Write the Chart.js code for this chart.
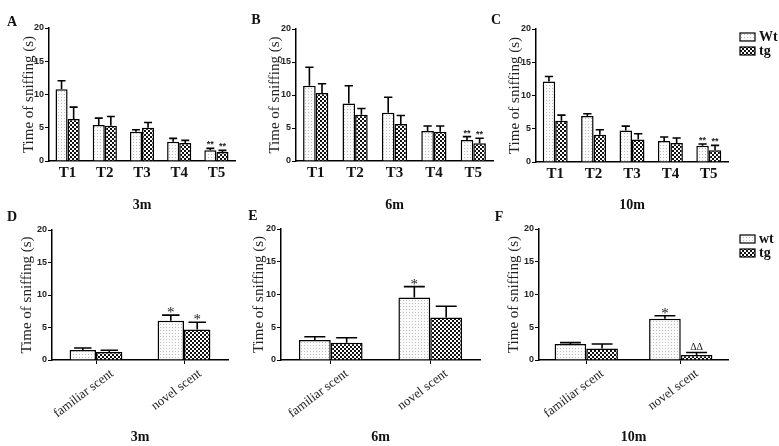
<!DOCTYPE html>
<html><head><meta charset="utf-8">
<script src="https://cdn.jsdelivr.net/npm/chart.js@4.4.0/dist/chart.umd.min.js"></script>
<style>
html,body{margin:0;padding:0;background:#fff;}
#wrap{position:relative;width:779px;height:446px;overflow:hidden;background:#fff;}
canvas{position:absolute;}
</style></head><body><div id="wrap"></div>
<script>
// ---------- data ----------
const trialLabels = ['T1','T2','T3','T4','T5'];
const scentLabels = ['familiar scent','novel scent'];
const ageLabels = ['3m','6m','10m'];
const topSeriesNames = ['Wt','tg'];
const bottomSeriesNames = ['wt','tg'];

// habituation trials (A: 3m, B: 6m, C: 10m)
const trialWt3m  = [10.8, 5.4, 4.4, 2.9, 1.6];
const trialWtSem3m = [1.26, 1.05, 0.3, 0.5, 0.3];
const trialTg3m  = [6.3, 5.3, 5.0, 2.7, 1.35];
const trialTgSem3m = [1.8, 1.4, 0.8, 0.4, 0.25];
const trialWt6m  = [11.4, 8.7, 7.3, 4.55, 3.2];
const trialWtSem6m = [2.8, 2.7, 2.35, 0.75, 0.5];
const trialTg6m  = [10.3, 7.0, 5.6, 4.45, 2.7];
const trialTgSem6m = [1.4, 0.95, 1.3, 0.85, 0.75];
const trialWt10m = [12.1, 6.9, 4.75, 3.15, 2.45];
const trialWtSem10m = [0.75, 0.35, 0.65, 0.6, 0.25];
const trialTg10m = [6.2, 4.1, 3.4, 2.85, 1.75];
const trialTgSem10m = [0.85, 0.75, 0.85, 0.75, 0.75];
const trialSigWt = ['', '', '', '', '**'];
const trialSigTg = ['', '', '', '', '**'];

// scent test (D: 3m, E: 6m, F: 10m)
const scentWt3m = [1.55, 6.05];
const scentWtSem3m = [0.3, 0.85];
const scentTg3m = [1.25, 4.7];
const scentTgSem3m = [0.25, 1.1];
const scentWt6m = [3.05, 9.55];
const scentWtSem6m = [0.5, 1.65];
const scentTg6m = [2.65, 6.5];
const scentTgSem6m = [0.75, 1.7];
const scentWt10m = [2.45, 6.3];
const scentWtSem10m = [0.2, 0.45];
const scentTg10m = [1.75, 0.75];
const scentTgSem10m = [0.7, 0.4];
const scentSigWt3m = ['', '*'];
const scentSigTg3m = ['', '*'];
const scentSigWt6m = ['', '*'];
const scentSigTg6m = ['', ''];
const scentSigWt10m = ['', '*'];
const scentSigTg10m = ['', '\u0394\u0394'];

const yTickMin = 0, yTickMax = 20, yTickStep = 5;

// ---------- layout (global px) ----------
const panels = [
  {letter:'A', letterPos:[12,22], cats:trialLabels, age:ageLabels[0], names:topSeriesNames,
   wt:trialWt3m, wtSem:trialWtSem3m, tg:trialTg3m, tgSem:trialTgSem3m, wtSig:trialSigWt, tgSig:trialSigTg,
   canvas:[0,0,250,215], area:[49,235,28,161], yTitleX:29, cat:0.65, rotated:false, legend:null},
  {letter:'B', letterPos:[256,20], cats:trialLabels, age:ageLabels[1], names:topSeriesNames,
   wt:trialWt6m, wtSem:trialWtSem6m, tg:trialTg6m, tgSem:trialTgSem6m, wtSig:trialSigWt, tgSig:trialSigTg,
   canvas:[250,0,250,215], area:[296,493,29,161], yTitleX:275, cat:0.64, rotated:false, legend:null},
  {letter:'C', letterPos:[496,20], cats:trialLabels, age:ageLabels[2], names:topSeriesNames,
   wt:trialWt10m, wtSem:trialWtSem10m, tg:trialTg10m, tgSem:trialTgSem10m, wtSig:trialSigWt, tgSig:trialSigTg,
   canvas:[488,0,291,215], area:[536,728,29,162], yTitleX:515, cat:0.65, rotated:false, legend:[740,37,14]},
  {letter:'D', letterPos:[12,217], cats:scentLabels, age:ageLabels[0], names:bottomSeriesNames,
   wt:scentWt3m, wtSem:scentWtSem3m, tg:scentTg3m, tgSem:scentTgSem3m, wtSig:scentSigWt3m, tgSig:scentSigTg3m,
   canvas:[0,200,250,246], area:[52,228,230,360], yTitleX:27, cat:0.6, rotated:true, legend:null},
  {letter:'E', letterPos:[253,216], cats:scentLabels, age:ageLabels[1], names:bottomSeriesNames,
   wt:scentWt6m, wtSem:scentWtSem6m, tg:scentTg6m, tgSem:scentTgSem6m, wtSig:scentSigWt6m, tgSig:scentSigTg6m,
   canvas:[246,200,250,246], area:[281,480,229,360], yTitleX:259, cat:0.64, rotated:true, legend:null},
  {letter:'F', letterPos:[499,217], cats:scentLabels, age:ageLabels[2], names:bottomSeriesNames,
   wt:scentWt10m, wtSem:scentWtSem10m, tg:scentTg10m, tgSem:scentTgSem10m, wtSig:scentSigWt10m, tgSig:scentSigTg10m,
   canvas:[490,200,289,246], area:[539,728,229,360], yTitleX:514, cat:0.67, rotated:true, legend:[740,239,14]},
];

function makePatterns(ctx){
  const d = document.createElement('canvas'); d.width=3; d.height=3;
  const g = d.getContext('2d');
  g.fillStyle='#fbfbfb'; g.fillRect(0,0,3,3);
  g.fillStyle='#bdbdbd'; g.fillRect(1,1,1,1);
  const c = document.createElement('canvas'); c.width=4; c.height=4;
  const h = c.getContext('2d');
  h.fillStyle='#111'; h.fillRect(0,0,4,4);
  h.fillStyle='#fff'; h.fillRect(0,0,2,2); h.fillRect(2,2,2,2);
  return {dots: ctx.createPattern(d,'repeat'), check: ctx.createPattern(c,'repeat')};
}

const serif = "'Liberation Serif','Times New Roman',serif";
const sans = "'Liberation Sans',Arial,sans-serif";

const extrasPlugin = {
  id:'extras',
  afterDatasetsDraw(chart, args, opts){
    const ctx = chart.ctx;
    const y = chart.scales.y;
    ctx.save();
    chart.data.datasets.forEach((ds, i) => {
      const meta = chart.getDatasetMeta(i);
      meta.data.forEach((el, j) => {
        const top = y.getPixelForValue(ds.data[j] + ds.sem[j]);
        const half = el.width * 0.33;
        ctx.strokeStyle = '#000'; ctx.lineWidth = 1.6;
        ctx.beginPath();
        ctx.moveTo(el.x, el.y); ctx.lineTo(el.x, top);
        ctx.moveTo(el.x - half, top); ctx.lineTo(el.x + half, top);
        ctx.stroke();
        const s = ds.sig[j];
        if (s) {
          ctx.fillStyle = '#222'; ctx.textAlign = 'center'; ctx.textBaseline = 'alphabetic';
          if (s === '**') { ctx.font = 'bold 9px ' + sans; ctx.fillText(s, el.x, top - 1); }
          else if (s === '*') { ctx.font = '15px ' + serif; ctx.fillText(s, el.x, top + 2); }
          else { ctx.font = '10px ' + serif; ctx.fillText(s, el.x, top - 2); }
        }
      });
    });
    ctx.restore();
  },
  afterDraw(chart, args, opts){
    const ctx = chart.ctx;
    ctx.save();
    ctx.fillStyle = '#111';
    ctx.font = 'bold 14px ' + serif;
    ctx.textAlign = 'center'; ctx.textBaseline = 'middle';
    ctx.fillText(opts.letter, opts.letterPos[0], opts.letterPos[1]);
    if (opts.legend) {
      const [lx, ly, lh] = opts.legend;
      chart.data.datasets.forEach((ds, i) => {
        const cy = ly + i * lh;
        ctx.fillStyle = ds.backgroundColor;
        ctx.fillRect(lx, cy - 4, 15, 8);
        ctx.strokeStyle = '#000'; ctx.lineWidth = 1.2;
        ctx.strokeRect(lx, cy - 4, 15, 8);
        ctx.fillStyle = '#111';
        ctx.font = 'bold 14px ' + serif;
        ctx.textAlign = 'left';
        ctx.fillText(ds.label, lx + 19, cy);
      });
    }
    ctx.restore();
  }
};

const wrap = document.getElementById('wrap');
panels.forEach(p => {
  const [cl, ct, cw, ch] = p.canvas;
  const [al, ar, at, ab] = p.area;
  const cv = document.createElement('canvas');
  cv.width = cw; cv.height = ch;
  cv.style.left = cl + 'px'; cv.style.top = ct + 'px';
  cv.style.width = cw + 'px'; cv.style.height = ch + 'px';
  wrap.appendChild(cv);
  const ctx = cv.getContext('2d');
  const pat = makePatterns(ctx);
  const yTitleFont = 15;
  const yTitleLH = yTitleFont * 1.2;
  const yScaleW = al - cl;
  const xScaleH = (ct + ch) - ab;
  const xTitleCenter = p.rotated ? 437 : 205;
  const xTitleOffset = (ct + ch) - xTitleCenter - (14 * 1.2) / 2;
  new Chart(ctx, {
    type: 'bar',
    data: {
      labels: p.cats,
      datasets: [
        {label: p.names[0], data: p.wt, sem: p.wtSem, sig: p.wtSig,
         backgroundColor: pat.dots, borderColor: '#000', borderWidth: 1.5,
         categoryPercentage: p.cat, barPercentage: 1.0},
        {label: p.names[1], data: p.tg, sem: p.tgSem, sig: p.tgSig,
         backgroundColor: pat.check, borderColor: '#000', borderWidth: 1.5,
         categoryPercentage: p.cat, barPercentage: 1.0}
      ]
    },
    options: {
      responsive: false, animation: false, devicePixelRatio: 1,
      layout: {autoPadding: false, padding: {left: 0, top: at - ct, right: (cl + cw) - ar, bottom: 0}},
      plugins: {
        legend: {display: false}, tooltip: {enabled: false},
        extras: {letter: p.letter, letterPos: [p.letterPos[0] - cl, p.letterPos[1] - ct],
                 legend: p.legend ? [p.legend[0] - cl, p.legend[1] - ct, p.legend[2]] : null}
      },
      scales: {
        x: {
          grid: {display: true, drawOnChartArea: false, drawTicks: p.rotated, tickLength: 4, color: '#000', offset: !p.rotated},
          border: {display: true, color: '#000', width: 1.5},
          ticks: p.rotated
            ? {color: '#222', font: {family: serif, size: 13}, minRotation: 37, maxRotation: 37, labelOffset: 16, padding: 2, autoSkip: false}
            : {color: '#111', font: {family: serif, size: 15, weight: 'bold'}, padding: 3, autoSkip: false},
          title: {display: true, text: p.age, color: '#111', font: {family: serif, size: 14, weight: 'bold'},
                  padding: {top: 0, bottom: xTitleOffset}},
          afterFit(s) { s.height = xScaleH; }
        },
        y: {
          min: yTickMin, max: yTickMax,
          grid: {display: true, drawOnChartArea: false, drawTicks: true, tickLength: 4, color: '#000'},
          border: {display: true, color: '#000', width: 1.5},
          ticks: {stepSize: yTickStep, color: '#222', font: {family: sans, size: 9, weight: 'bold'}, padding: 1},
          title: {display: true, text: 'Time of sniffing (s)', color: '#222', font: {family: serif, size: yTitleFont},
                  padding: {top: (p.yTitleX - cl) - yTitleLH / 2, bottom: 0}},
          afterFit(s) { s.width = yScaleW; }
        }
      }
    },
    plugins: [extrasPlugin]
  });
});
</script>
</body></html>
